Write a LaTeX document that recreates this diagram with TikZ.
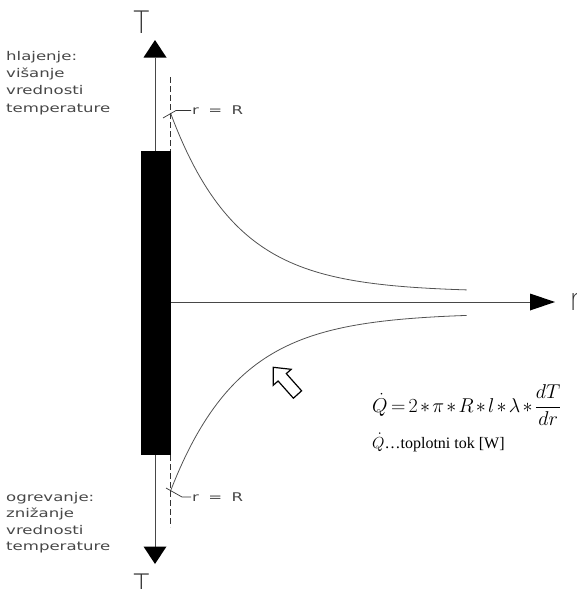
\RequirePackage{fix-cm}
\documentclass[tikz,border=0pt]{standalone}
\usepackage{amsmath}
\usepackage{graphicx}
\usepackage{fontspec}
\setmainfont{Liberation Serif}
\newfontfamily\cadfont{DejaVu Sans}
\newfontfamily\cadthin{DejaVu Sans ExtraLight}
\newcommand{\cadtext}[1]{\scalebox{1.38}[1]{#1}}
\newcommand{\cadbigtext}[1]{\scalebox{0.85}[1]{#1}}
\begin{document}
\begin{tikzpicture}[x=1pt,y=-1pt,
  axisline/.style={draw=black!72, line width=0.9pt},
  curveline/.style={draw=black!68, line width=0.8pt},
  leaderline/.style={draw=black!80, line width=0.7pt},
  dashline/.style={draw=black!80, line width=0.7pt, dash pattern=on 6pt off 3pt},
  cad/.style={font=\cadfont\fontsize{12}{12}\selectfont, text=black!72, inner sep=0pt, anchor=base west},
  cadbig/.style={font=\cadthin\fontsize{31}{31}\selectfont, text=black!80, inner sep=0pt, anchor=base},
  tip/.style={fill=black},
  hollow/.style={draw=black, line width=1.2pt, fill=white, line join=miter}
]
\useasboundingbox (0,0) rectangle (577,589);

% axis labels
\node[cadbig] (Ttop) at (141.5,33) {\cadbigtext{T}};
\node[cadbig] (Tbot) at (141.5,596) {\cadbigtext{T}};
\node[cadbig, anchor=base west] (rlab) at (569.5,310) {\cadbigtext{r}};

% vertical temperature axis
\coordinate (vtop) at (155,57.5);
\coordinate (vbot) at (155,546.5);
\draw[axisline] (vtop) -- (vbot);
\fill[tip] (155,40) -- (143.5,57.5) -- (166.5,57.5) -- cycle;
\fill[tip] (155,564) -- (143.5,546.5) -- (166.5,546.5) -- cycle;

% surface line and wall (black bar)
\coordinate (dtop) at (170.5,77);
\coordinate (dbot) at (170.5,527);
\draw[dashline] (dtop) -- (dbot);
\fill (141,151) rectangle (170.5,455);

% horizontal r axis
\coordinate (hstart) at (170.5,302);
\coordinate (hend) at (530,302);
\draw[axisline] (hstart) -- (hend);
\fill[tip] (530,293.5) -- (555,302) -- (530,310.5) -- cycle;

% temperature curves
\draw[curveline] plot[domain=170.5:466.7, samples=90] (\x, {292-179*exp(-0.015*(\x-170.5))});
\draw[curveline] plot[domain=170.5:466.7, samples=90] (\x, {313+178*exp(-0.0145*(\x-170.5))});

% r = R leaders
\coordinate (ltop) at (191,110.5);
\draw[leaderline] (163,118) -- (176,110.5) -- (ltop);
\node[cad, anchor=west] (rtop) at (192,110.5) {\cadtext{r \hspace{3pt}= \hspace{3pt}R}};
\coordinate (lbot) at (191,497);
\draw[leaderline] (166,488) -- (182,497) -- (lbot);
\node[cad, anchor=west] (rbot) at (192,497) {\cadtext{r \hspace{3pt}= \hspace{3pt}R}};

% left texts
\node[cad] (c1) at (6,60) {\cadtext{hlajenje:}};
\node[cad] (c2) at (6,77.3) {\cadtext{višanje}};
\node[cad] (c3) at (6,94.7) {\cadtext{vrednosti}};
\node[cad] (c4) at (6,112) {\cadtext{temperature}};
\node[cad] (h1) at (6,501) {\cadtext{ogrevanje:}};
\node[cad] (h2) at (6,517.5) {\cadtext{znižanje}};
\node[cad] (h3) at (6,534) {\cadtext{vrednosti}};
\node[cad] (h4) at (6,550.5) {\cadtext{temperature}};

% heat flow arrow
\draw[hollow] (301.6,390.8) -- (286.3,373.6) -- (291.2,369.3) -- (273.3,367.3) -- (273.2,385.3) -- (278.1,381.0) -- (293.4,398.2) -- cycle;

% formula
\node[anchor=base west, inner sep=0pt] (law) at (372,412) {\fontsize{20}{20}\selectfont \medmuskip=2mu \thickmuskip=3mu $\dot{Q} = 2 * \pi * R * l * \lambda * \dfrac{dT}{dr}$};
\node[anchor=base west, inner sep=0pt] (flux) at (372,448) {\fontsize{16}{16}\selectfont $\dot{Q}$…toplotni tok [W]};
\end{tikzpicture}
\end{document}
